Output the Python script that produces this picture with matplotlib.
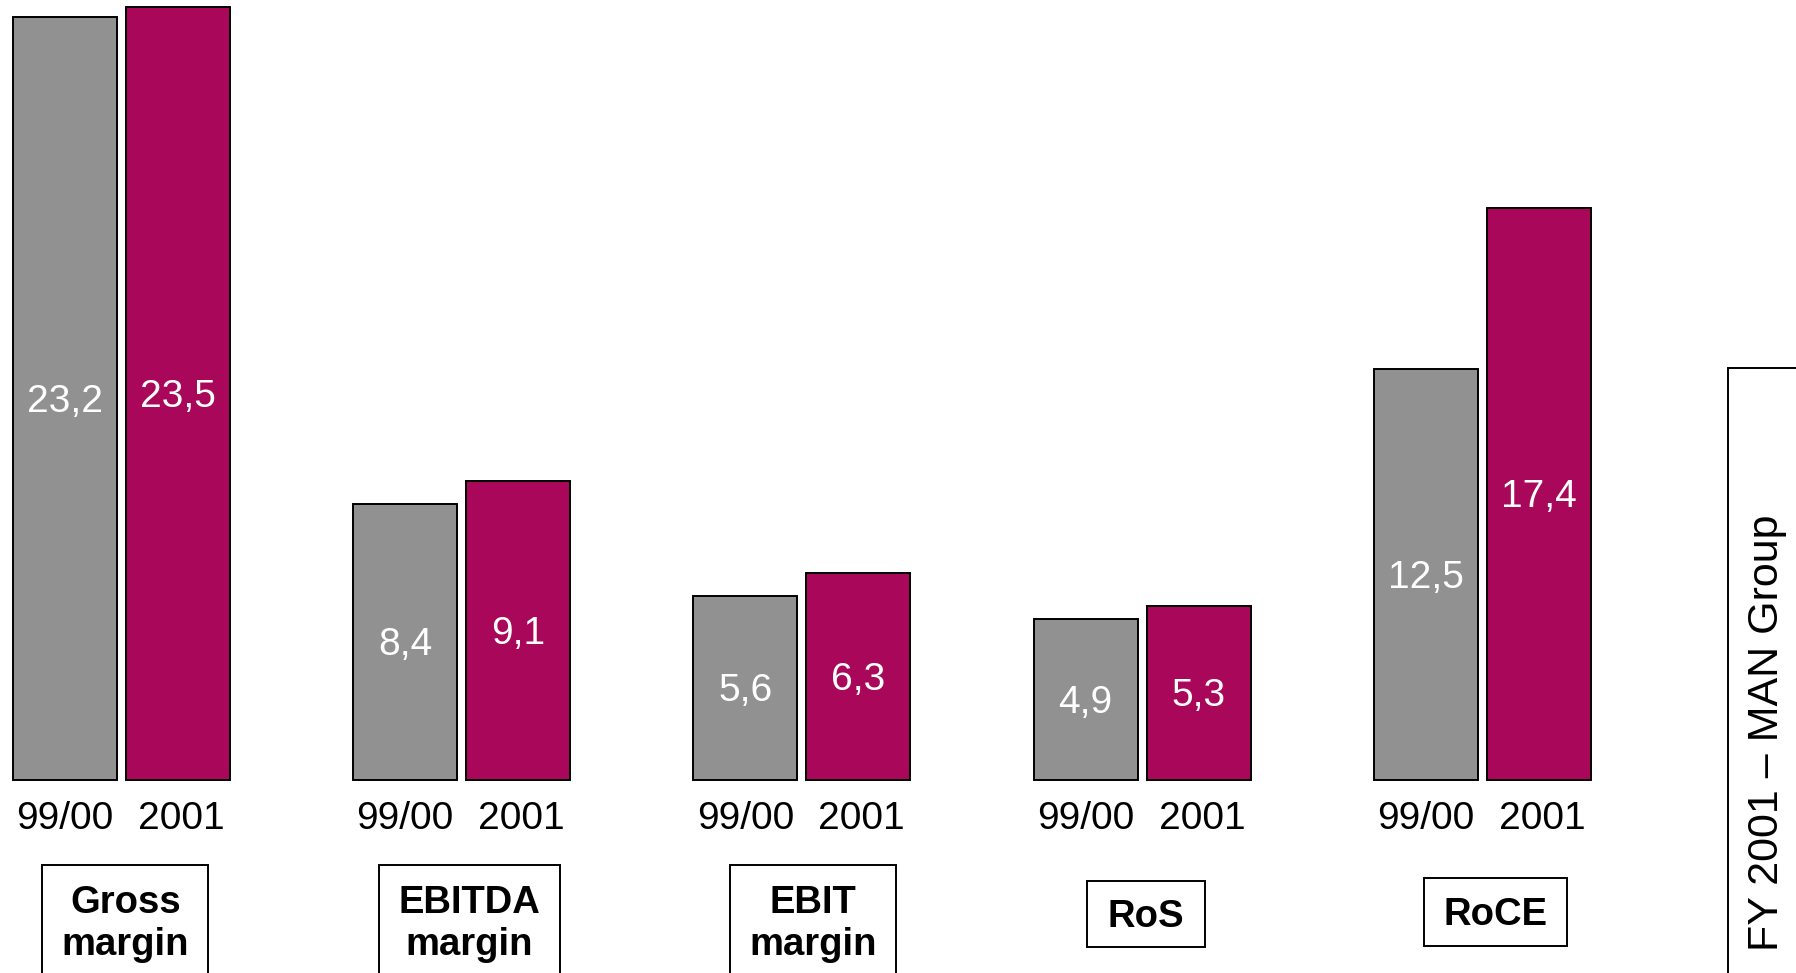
import matplotlib
matplotlib.use("Agg")
import matplotlib.pyplot as plt
from matplotlib.patches import Rectangle
from matplotlib.transforms import IdentityTransform

plt.rcParams["font.family"] = ["Liberation Sans", "DejaVu Sans"]

# --- data ---
metrics = ["Gross\nmargin", "EBITDA\nmargin", "EBIT\nmargin", "RoS", "RoCE"]
periods = ["99/00", "2001"]
vals_9900 = [23.2, 8.4, 5.6, 4.9, 12.5]
vals_2001 = [23.5, 9.1, 6.3, 5.3, 17.4]

# --- layout (pixels of the 1796x973 canvas) ---
W, H = 1796, 973
PERIOD = 340.2          # px between group centers
FIRST = 121.4           # px of first group center
BASE = 780              # px from top of the zero line
UNIT = 32.9             # px per percentage point

GRAY = "#919191"
MAGENTA = "#A8075A"
BAR_W = 104 / PERIOD
OFF = 113 / 2 / PERIOD

box_w = [166, 181, 166, 118, 143]
box_h = [112, 112, 112, 66, 68]
box_dx = [4, 8, 11, 4, 13]          # px shift of box vs group center
box_y = [-4.29, -4.29, -4.29, -4.07, -4.0]
text_dy = [-0.08, -0.08, -0.08, -0.1, -0.1]

fig = plt.figure(figsize=(W / 100, H / 100), dpi=100)
ax = fig.add_axes([0, 0, 1, 1])
ax.set_xlim(-FIRST / PERIOD, (W - FIRST) / PERIOD)
ax.set_ylim(-(H - BASE) / UNIT, BASE / UNIT)
ax.axis("off")

x = list(range(len(metrics)))
x_a = [i - OFF for i in x]
x_b = [i + OFF for i in x]
ax.bar(x_a, vals_9900, width=BAR_W, color=GRAY, edgecolor="black", linewidth=1.4)
ax.bar(x_b, vals_2001, width=BAR_W, color=MAGENTA, edgecolor="black", linewidth=1.4)

for xa, xb, va, vb in zip(x_a, x_b, vals_9900, vals_2001):
    ax.text(xa, va / 2 - 0.1, f"{va:.1f}".replace(".", ","), color="white",
            fontsize=28, ha="center", va="center")
    ax.text(xb, vb / 2 - 0.1, f"{vb:.1f}".replace(".", ","), color="white",
            fontsize=28, ha="center", va="center")
    ax.text(xa, -1.2, periods[0], fontsize=28, ha="center", va="center")
    ax.text(xb + 0.01, -1.2, periods[1], fontsize=28, ha="center", va="center")

# metric name boxes
for i, name in enumerate(metrics):
    xc = i + box_dx[i] / PERIOD
    ax.text(xc, box_y[i] + text_dy[i], name, fontsize=27.5, fontweight="bold",
            ha="center", va="center", linespacing=1.2)
    cx, cy = ax.transData.transform((xc, box_y[i]))
    fig.add_artist(Rectangle((cx - box_w[i] / 2, cy - box_h[i] / 2), box_w[i], box_h[i],
                             transform=IdentityTransform(), fill=False,
                             edgecolor="black", linewidth=1.4, clip_on=False))

# side label
fig.add_artist(Rectangle((1728, -20), 200, 625, transform=IdentityTransform(),
                         fill=False, edgecolor="black", linewidth=1.4, clip_on=False))
fig.text(1767 / W, 240 / H, "FY 2001 \u2013 MAN Group", fontsize=31,
         rotation=90, ha="center", va="center")

fig.savefig("out.png", dpi=100)
